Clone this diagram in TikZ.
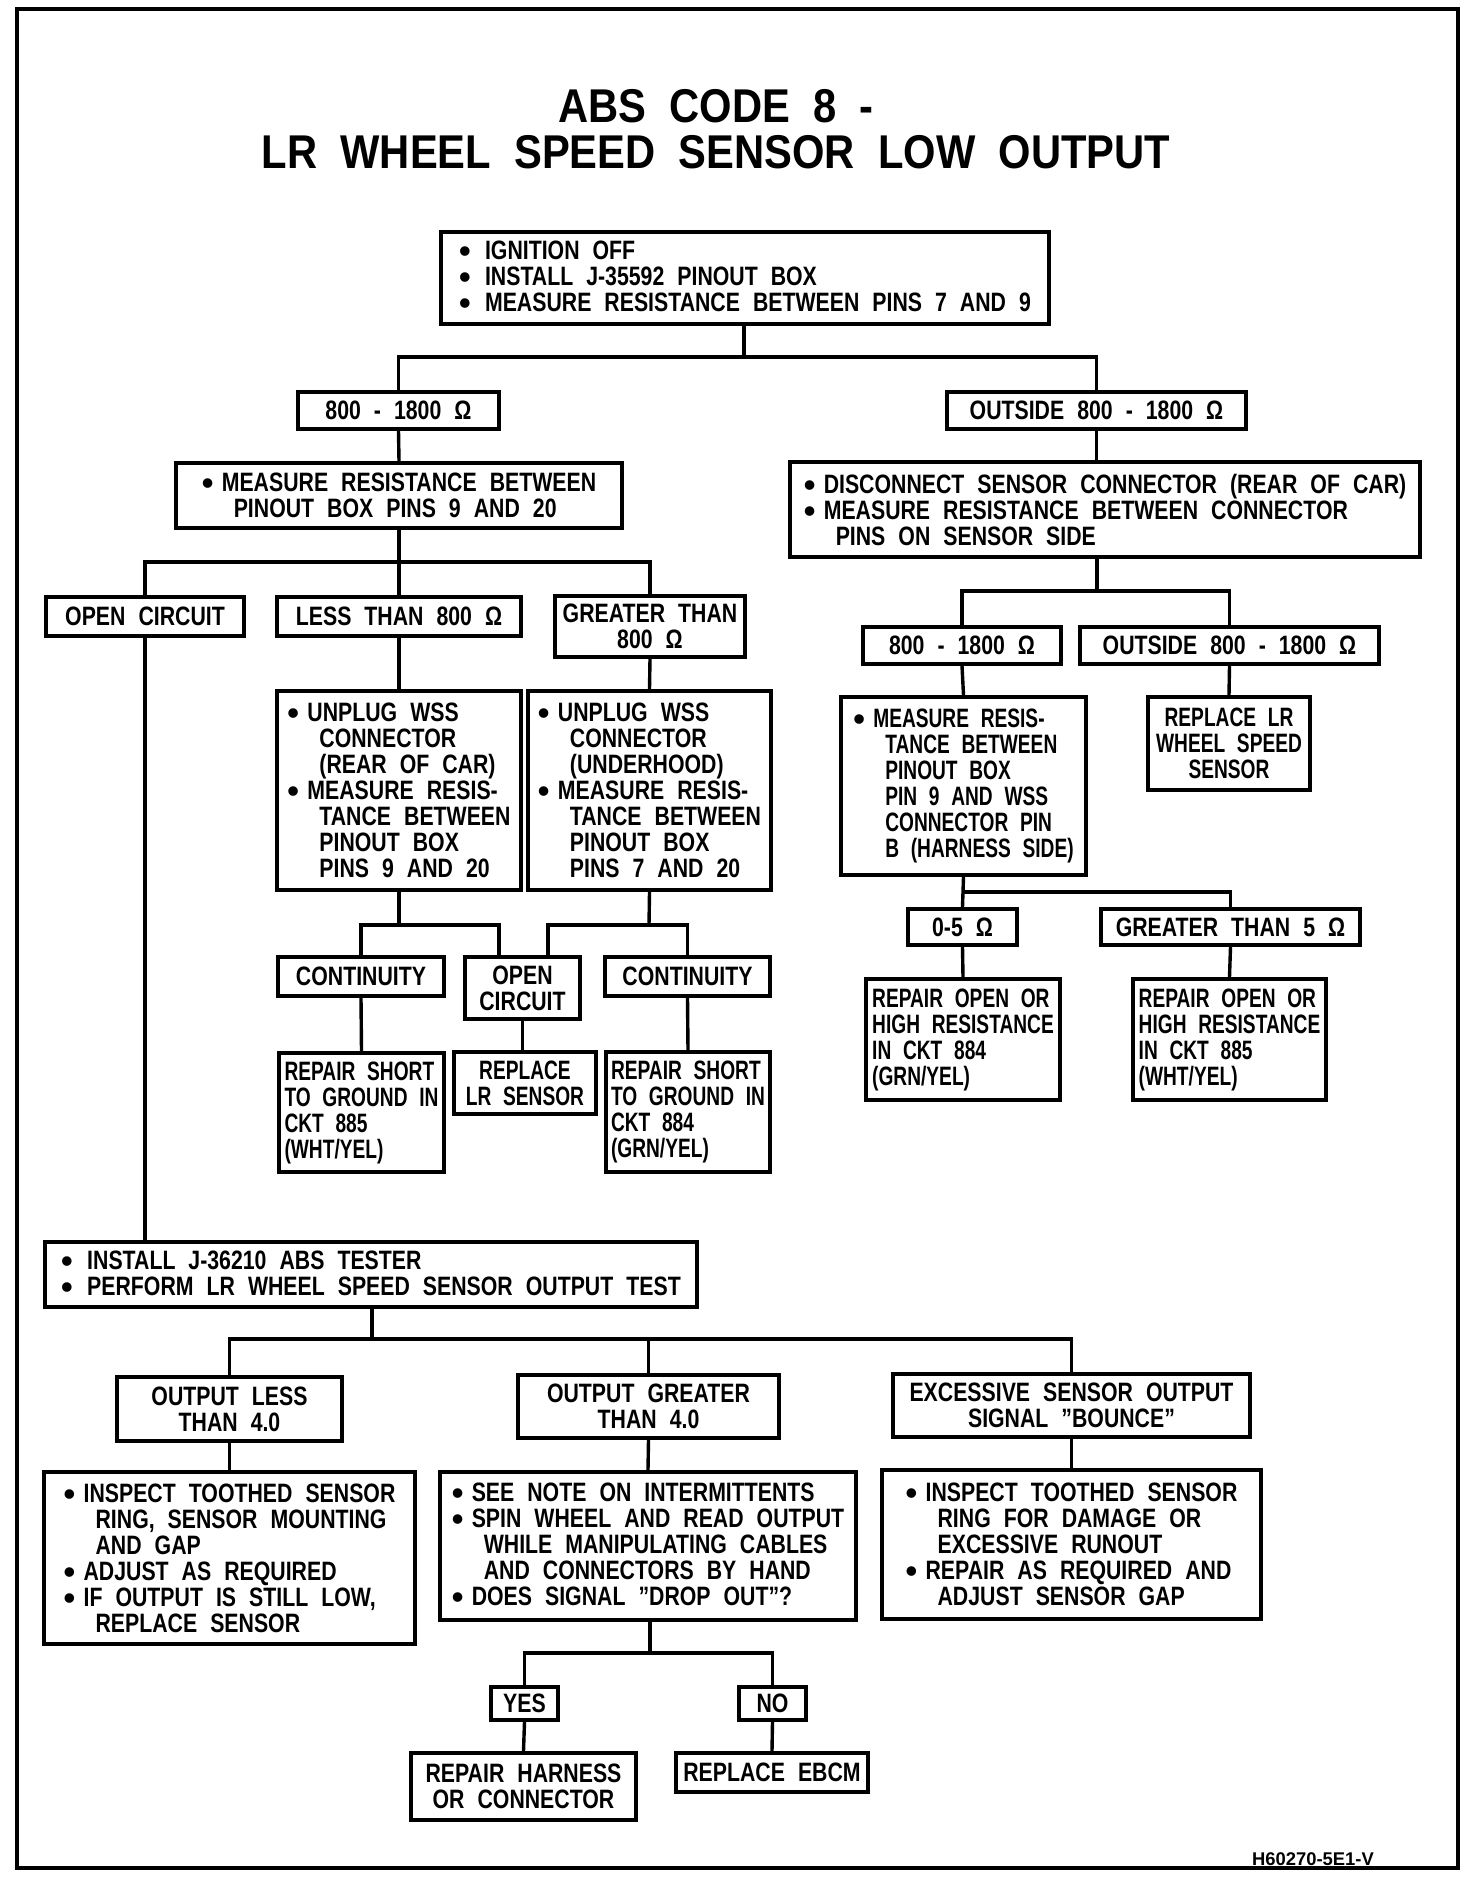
\documentclass[tikz,border=0pt]{standalone}
\usepackage{fontspec}
\setmainfont[FakeStretch=0.8,WordSpace=2.2]{Liberation Sans}
\newfontfamily\slimfont[FakeStretch=0.72,WordSpace=2.2]{Liberation Sans}
\newfontfamily\titlefont[FakeStretch=0.88,WordSpace=2]{Liberation Sans}
\newfontfamily\plainfont{Liberation Sans}
\newcommand{\bul}[1][10pt]{\makebox[#1][l]{\raisebox{-1.5pt}{\scalebox{1.25}{\plainfont\bfseries\textbullet}}}}
\newcommand{\ind}{\hspace*{16pt}}

\tikzset{
  box/.style={draw, line width=2pt, inner sep=0pt, align=center,
    font=\bfseries\fontsize{13.3pt}{13pt}\selectfont},
  lbox/.style={box, align=left},
  slim/.style={font=\slimfont\bfseries\fontsize{13.3pt}{13pt}\selectfont},
  sz/.style 2 args={minimum width=#1*0.5pt, minimum height=#2*0.5pt},
  link/.style={line width=1.7pt}
}

\begin{document}
\begin{tikzpicture}[x=0.5pt, y=-0.5pt]
  \useasboundingbox (0,0) rectangle (1472,1880);
  \draw[line width=1.8pt] (17,9) rectangle (1458,1868);

  \node[align=center, font=\titlefont\bfseries\fontsize{23.7pt}{23pt}\selectfont] (title) at (716,129.5)
    {ABS CODE 8 -\\LR WHEEL SPEED SENSOR LOW OUTPUT};

  % first test
  \node[lbox, sz={608}{92}] (ign) at (745,278)
    {\bul[13pt]IGNITION OFF\\\bul[13pt]INSTALL J-35592 PINOUT BOX\\\bul[13pt]MEASURE RESISTANCE BETWEEN PINS 7 AND 9};
  \node[box, sz={201}{37}] (okA) at (398.5,410.5) {800 - 1800 Ω};
  \node[box, sz={299}{37}] (outA) at (1096.5,410.5) {OUTSIDE 800 - 1800 Ω};

  % left branch
  \node[lbox, sz={446}{65}] (meaA) at (399,495.5)
    {\bul MEASURE RESISTANCE BETWEEN\\\ind PINOUT BOX PINS 9 AND 20};
  \node[box, sz={198}{39}] (openA) at (145,616.5) {OPEN CIRCUIT};
  \node[box, sz={244}{39}] (lessA) at (399,616.5) {LESS THAN 800 Ω};
  \node[box, sz={190}{61}] (grtA) at (650,626.5) {GREATER THAN\\800 Ω};
  \node[lbox, sz={244}{199}] (unpA) at (399,790.5)
    {\bul UNPLUG WSS\\\ind CONNECTOR\\\ind (REAR OF CAR)\\\bul MEASURE RESIS-\\\ind TANCE BETWEEN\\\ind PINOUT BOX\\\ind PINS 9 AND 20};
  \node[lbox, sz={243}{199}] (unpB) at (649.5,790.5)
    {\bul UNPLUG WSS\\\ind CONNECTOR\\\ind (UNDERHOOD)\\\bul MEASURE RESIS-\\\ind TANCE BETWEEN\\\ind PINOUT BOX\\\ind PINS 7 AND 20};
  \node[box, sz={166}{39}] (contA) at (361,976.5) {CONTINUITY};
  \node[box, sz={115}{62}] (openB) at (522.5,988) {OPEN\\CIRCUIT};
  \node[box, sz={165}{39}] (contB) at (687.5,976.5) {CONTINUITY};
  \node[lbox, slim, sz={165}{119}] (shortA) at (361.5,1112.5)
    {REPAIR SHORT\\TO GROUND IN\\CKT 885\\(WHT/YEL)};
  \node[box, slim, sz={142}{62}] (replA) at (525,1083) {REPLACE\\LR SENSOR};
  \node[lbox, slim, sz={164}{120}] (shortB) at (688,1112)
    {REPAIR SHORT\\TO GROUND IN\\CKT 884\\(GRN/YEL)};

  % right branch
  \node[lbox, sz={630}{95}] (disc) at (1105,509.5)
    {\bul DISCONNECT SENSOR CONNECTOR (REAR OF CAR)\\\bul MEASURE RESISTANCE BETWEEN CONNECTOR\\\ind PINS ON SENSOR SIDE};
  \node[box, sz={198}{37}] (okB) at (962,645.5) {800 - 1800 Ω};
  \node[box, sz={299}{37}] (outB) at (1229.5,645.5) {OUTSIDE 800 - 1800 Ω};
  \node[lbox, slim, sz={245}{178}] (meaB) at (963.5,786)
    {\bul MEASURE RESIS-\\\ind TANCE BETWEEN\\\ind PINOUT BOX\\\ind PIN 9 AND WSS\\\ind CONNECTOR PIN\\\ind B (HARNESS SIDE)};
  \node[box, slim, sz={162}{93}] (replB) at (1229,743.5) {REPLACE LR\\WHEEL SPEED\\SENSOR};
  \node[box, sz={109}{36}] (lowC) at (962.5,927) {0-5 Ω};
  \node[box, sz={259}{36}] (grtC) at (1230.5,927) {GREATER THAN 5 Ω};
  \node[lbox, slim, sz={194}{121}] (openC) at (963,1039.5)
    {REPAIR OPEN OR\\HIGH RESISTANCE\\IN CKT 884\\(GRN/YEL)};
  \node[lbox, slim, sz={193}{121}] (openD) at (1229.5,1039.5)
    {REPAIR OPEN OR\\HIGH RESISTANCE\\IN CKT 885\\(WHT/YEL)};

  % tester
  \node[lbox, sz={652}{65}] (tester) at (371,1274.5)
    {\bul[13pt]INSTALL J-36210 ABS TESTER\\\bul[13pt]PERFORM LR WHEEL SPEED SENSOR OUTPUT TEST};
  \node[box, sz={225}{64}] (outLow) at (229.5,1409) {OUTPUT LESS\\THAN 4.0};
  \node[box, sz={261}{63}] (outHigh) at (648.5,1406.5) {OUTPUT GREATER\\THAN 4.0};
  \node[box, sz={357}{63}] (bounce) at (1071.5,1405.5) {EXCESSIVE SENSOR OUTPUT\\SIGNAL "BOUNCE"};
  \node[lbox, sz={371}{172}] (inspA) at (229.5,1558)
    {\bul INSPECT TOOTHED SENSOR\\\ind RING, SENSOR MOUNTING\\\ind AND GAP\\\bul ADJUST AS REQUIRED\\\bul IF OUTPUT IS STILL LOW,\\\ind REPLACE SENSOR};
  \node[lbox, sz={416}{148}] (intm) at (648,1546)
    {\bul SEE NOTE ON INTERMITTENTS\\\bul SPIN WHEEL AND READ OUTPUT\\\ind WHILE MANIPULATING CABLES\\\ind AND CONNECTORS BY HAND\\\bul DOES SIGNAL "DROP OUT"?};
  \node[lbox, sz={379}{149}] (inspB) at (1071.5,1544.5)
    {\bul INSPECT TOOTHED SENSOR\\\ind RING FOR DAMAGE OR\\\ind EXCESSIVE RUNOUT\\\bul REPAIR AS REQUIRED AND\\\ind ADJUST SENSOR GAP};
  \node[box, sz={67}{33}] (yes) at (524.5,1703.5) {YES};
  \node[box, sz={67}{33}] (no) at (772.5,1703.5) {NO};
  \node[box, sz={225}{67}] (harn) at (523.5,1786.5) {REPAIR HARNESS\\OR CONNECTOR};
  \node[box, sz={192}{39}] (ebcm) at (772,1772.5) {REPLACE EBCM};

  \node[font=\plainfont\bfseries\fontsize{9.2pt}{10pt}\selectfont] (code) at (1313,1859) {H60270-5E1-V};

  % junctions
  \coordinate (j1) at (744,357);
  \coordinate (j2) at (399,562);
  \coordinate (j3) at (399,925);
  \coordinate (j4) at (649,925);
  \coordinate (j5) at (1097,591);
  \coordinate (j6) at (963,892);
  \coordinate (j7) at (372,1339);
  \coordinate (j8) at (650,1653);

  \draw[link] (ign.south -| j1) -- (j1);
  \draw[link] (okA.north) |- (j1) -| (outA.north);
  \draw[link] (okA.south) -- (meaA.north);
  \draw[link] (outA.south) -- (outA.south |- disc.north);
  \draw[link] (meaA.south) -- (lessA.north);
  \draw[link] (openA.north) |- (j2) -| (grtA.north);
  \draw[link] (lessA.south) -- (unpA.north);
  \draw[link] (grtA.south) -- (unpB.north);
  \draw[link] (unpA.south) -- (j3);
  \draw[link] (contA.north) |- (j3) -| ([xshift=-11.75pt]openB.north);
  \draw[link] (unpB.south) -- (j4);
  \draw[link] ([xshift=12.75pt]openB.north) |- (j4) -| (contB.north);
  \draw[link] (contA.south) -- (shortA.north);
  \draw[link] (openB.south) -- (openB.south |- replA.north);
  \draw[link] (contB.south) -- (shortB.north);
  \draw[link] (disc.south -| j5) -- (j5);
  \draw[link] (okB.north) |- (j5) -| (outB.north);
  \draw[link] (okB.south) -- (meaB.north);
  \draw[link] (outB.south) -- (replB.north);
  \draw[link] (meaB.south) -- (lowC.north);
  \draw[link] (j6) -| (grtC.north);
  \draw[link] (lowC.south) -- (openC.north);
  \draw[link] (grtC.south) -- (openD.north);
  \draw[link] (openA.south) -- (openA.south |- tester.north);
  \draw[link] (tester.south -| j7) -- (j7);
  \draw[link] (outLow.north) |- (j7) -| (bounce.north);
  \draw[link] (j7 -| outHigh.north) -- (outHigh.north);
  \draw[link] (outLow.south) -- (inspA.north);
  \draw[link] (outHigh.south) -- (intm.north);
  \draw[link] (bounce.south) -- (inspB.north);
  \draw[link] (intm.south -| j8) -- (j8);
  \draw[link] (yes.north) |- (j8) -| (no.north);
  \draw[link] (yes.south) -- (harn.north);
  \draw[link] (no.south) -- (ebcm.north);
\end{tikzpicture}
\end{document}
